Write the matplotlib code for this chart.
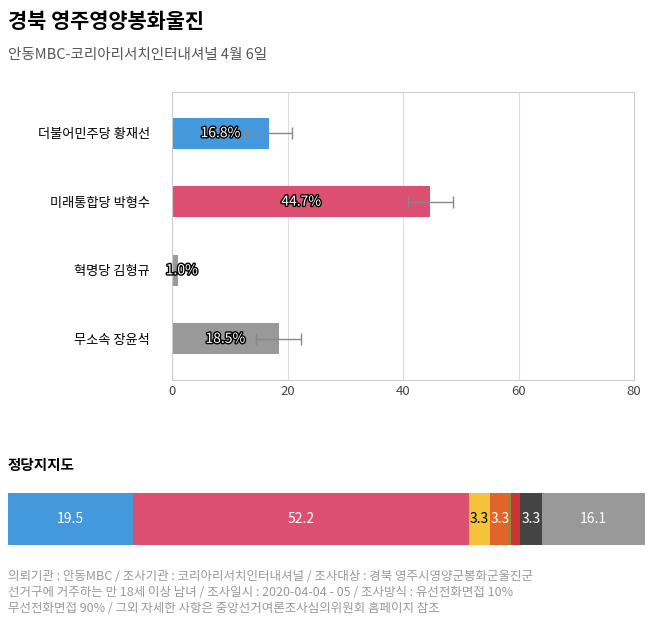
import matplotlib.pyplot as plt
import matplotlib.patheffects as pe

plt.rcParams['font.family'] = ['Noto Sans CJK KR', 'DejaVu Sans']

candidates = ['더불어민주당 황재선', '미래통합당 박형수', '혁명당 김형규', '무소속 장윤석']
support = [16.8, 44.7, 1.0, 18.5]
errors = [3.9, 3.9, None, 3.9]
cand_colors = ['#4499dd', '#dd4f70', '#999999', '#999999']

party_values = [19.5, 52.2, 3.3, 3.0, 0.3, 1.4, 3.3, 16.1]
party_labels = ['19.5', '52.2', '3.3', '3.3', '', '', '3.3', '16.1']
party_colors = ['#4499dd', '#dd4f70', '#f4c33a', '#e0652a', '#6a9a3a', '#cc3333', '#444444', '#999999']
party_text = ['white', 'white', 'black', 'white', 'white', 'white', 'white', 'white']

W, H = 658, 625
fig = plt.figure(figsize=(W / 100, H / 100), dpi=100)

fig.text(8 / W, 1 - 22 / H, '경북 영주영양봉화울진', fontsize=15, fontweight='bold', va='center')
fig.text(8 / W, 1 - 55 / H, '안동MBC-코리아리서치인터내셔널 4월 6일', fontsize=10.5, color='#555555', va='center')

ax = fig.add_axes([172 / W, 1 - 380 / H, 462 / W, 288 / H])
ypos = list(range(len(candidates)))
ax.barh(ypos, support, height=0.45, color=cand_colors, zorder=2)
for y, v, e in zip(ypos, support, errors):
    if e is not None:
        ax.errorbar(v, y, xerr=e, color='#888888', capsize=4, lw=1, zorder=3)
    ax.text(max(v / 2, 1.7), y, f'{v}%', ha='center', va='center', color='white', fontsize=10,
            path_effects=[pe.withStroke(linewidth=2, foreground='black')], zorder=4)
ax.set_yticks(ypos)
ax.set_yticklabels(candidates, fontsize=11)
ax.set_ylim(3.6, -0.6)
ax.set_xlim(0, 80)
ax.set_xticks([0, 20, 40, 60, 80])
ax.tick_params(length=0, labelsize=9.5, colors='#444444')
ax.tick_params(axis='y', pad=16, colors='black')
ax.grid(axis='x', color='#dddddd', zorder=0)
for s in ax.spines.values():
    s.set_color('#cccccc')

fig.text(8 / W, 1 - 465 / H, '정당지지도', fontsize=10.5, fontweight='bold', va='center')

ax2 = fig.add_axes([8 / W, 1 - 545 / H, 637 / W, 52 / H])
left = 0
for v, lab, c, tc in zip(party_values, party_labels, party_colors, party_text):
    ax2.barh(0, v, left=left, height=1, color=c)
    if lab:
        ax2.text(left + v / 2, 0, lab, ha='center', va='center', color=tc, fontsize=10)
    left += v
ax2.set_xlim(0, sum(party_values))
ax2.set_ylim(-0.5, 0.5)
ax2.axis('off')

notes = ['의뢰기관 : 안동MBC / 조사기관 : 코리아리서치인터내셔널 / 조사대상 : 경북 영주시영양군봉화군울진군',
         '선거구에 거주하는 만 18세 이상 남녀 / 조사일시 : 2020-04-04 - 05 / 조사방식 : 유선전화면접 10%',
         '무선전화면접 90% / 그외 자세한 사항은 중앙선거여론조사심의위원회 홈페이지 참조']
for i, line in enumerate(notes):
    fig.text(8 / W, 1 - (576 + i * 16) / H, line, fontsize=9, color='#999999', va='center')

fig.savefig('out.png', dpi=100)
